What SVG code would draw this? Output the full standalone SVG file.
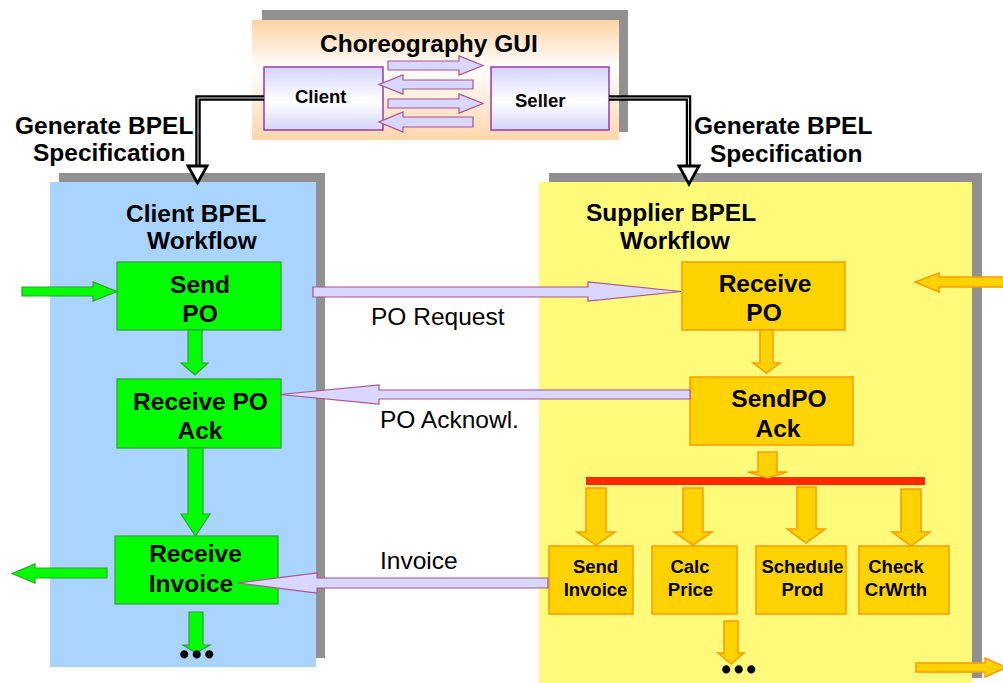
<svg xmlns="http://www.w3.org/2000/svg" width="1003" height="683" viewBox="0 0 1003 683">
<defs>
<linearGradient id="gPeach" x1="0" y1="0" x2="0" y2="1">
<stop offset="0" stop-color="#FFD3A3"/>
<stop offset="0.4" stop-color="#FFFFFF"/>
<stop offset="1" stop-color="#FFD6AC"/>
</linearGradient>
<linearGradient id="gLav" x1="0" y1="0" x2="0" y2="1">
<stop offset="0" stop-color="#D4D4FF"/>
<stop offset="0.55" stop-color="#FFFFFF"/>
<stop offset="1" stop-color="#D4D4FF"/>
</linearGradient>
<style>
.shadow{fill:#919191}
.t{font-family:"Liberation Sans",Arial,sans-serif;font-weight:bold;font-size:24.5px;fill:#000}
.s{font-family:"Liberation Sans",Arial,sans-serif;font-weight:bold;font-size:18.5px;fill:#000}
.r{font-family:"Liberation Sans",Arial,sans-serif;font-weight:normal;font-size:24.5px;fill:#000}
.d{font-family:"Liberation Serif","Times New Roman",serif;font-weight:bold;font-size:50px;fill:#000}
.c{text-anchor:middle}
.green{fill:#00FF00;stroke:#2FA02F;stroke-width:1.2}
.gold{fill:#FFD200;stroke:#FF9A00;stroke-width:1.5}
.lav{fill:#D7D7FF;stroke:#B0508C;stroke-width:1.2}
.box{fill:url(#gLav);stroke:#9A3AAA;stroke-width:1.5}
.blk{fill:none;stroke:#000;stroke-width:5.5;stroke-linejoin:miter}
.wht{fill:none;stroke:#FFF;stroke-width:0.9}
.head{fill:#FFF;stroke:#000;stroke-width:2.8;stroke-linejoin:miter}
</style>
</defs>
<rect width="1003" height="683" fill="#FFFFFF"/>

<g id="choreography-gui">
<rect class="shadow" x="262" y="10" width="366" height="122"/>
<rect x="252" y="20" width="367" height="120" fill="url(#gPeach)"/>
<text class="t" x="320" y="52">Choreography GUI</text>
</g>
<g id="gui-client">
<rect class="box" x="264" y="67" width="119" height="63"/>
<text class="s" x="295" y="103">Client</text>
</g>
<g id="gui-seller">
<rect class="box" x="491" y="67" width="118" height="63"/>
<text class="s" x="515" y="107">Seller</text>
</g>

<g id="client-panel">
<rect class="shadow" x="59" y="173" width="266" height="485"/>
<rect x="50" y="182" width="266" height="485" fill="#A8D4FF"/>
<text class="t" x="126" y="222">Client BPEL</text>
<text class="t" x="147" y="249">Workflow</text>
</g>

<g id="supplier-panel">
<rect class="shadow" x="549" y="173" width="433" height="505"/>
<rect x="539" y="182" width="433" height="501" fill="#FFFB7A"/>
<text class="t" x="586" y="221">Supplier BPEL</text>
<text class="t" x="620" y="249">Workflow</text>
</g>

<g id="gen-left-label">
<text class="t" x="15" y="134">Generate BPEL</text>
<text class="t" x="33" y="161">Specification</text>
</g>
<g id="gen-right-label">
<text class="t" x="694" y="134">Generate BPEL</text>
<text class="t" x="710" y="162">Specification</text>
</g>

<g id="send-po">
<rect class="green" x="117" y="262" width="164" height="68"/>
<text class="t c" x="200" y="293">Send</text>
<text class="t c" x="200" y="322">PO</text>
</g>
<g id="receive-po-ack">
<rect class="green" x="117" y="379" width="164" height="69"/>
<text class="t c" x="200.5" y="410">Receive PO</text>
<text class="t c" x="200" y="439">Ack</text>
</g>
<g id="receive-invoice">
<rect class="green" x="115" y="536" width="163" height="68"/>
<text class="t c" x="195.5" y="562">Receive</text>
<text class="t c" x="191" y="592">Invoice</text>
</g>

<g id="receive-po">
<rect class="gold" x="682" y="262" width="163" height="68"/>
<text class="t c" x="765" y="292">Receive</text>
<text class="t c" x="764" y="321">PO</text>
</g>
<g id="sendpo-ack">
<rect class="gold" x="690" y="377" width="163" height="68"/>
<text class="t c" x="779" y="407">SendPO</text>
<text class="t c" x="778" y="437">Ack</text>
</g>
<g id="fork-bar">
<rect x="586" y="477" width="339" height="8" fill="#FF2A00"/>
</g>
<g id="send-invoice">
<rect class="gold" x="549" y="546" width="84" height="68"/>
<text class="s c" x="595.5" y="573">Send</text>
<text class="s c" x="595.5" y="596">Invoice</text>
</g>
<g id="calc-price">
<rect class="gold" x="652" y="546" width="85" height="68"/>
<text class="s c" x="690" y="573">Calc</text>
<text class="s c" x="690.5" y="596">Price</text>
</g>
<g id="schedule-prod">
<rect class="gold" x="756" y="546" width="90" height="68"/>
<text class="s c" x="802.5" y="573">Schedule</text>
<text class="s c" x="802.5" y="596">Prod</text>
</g>
<g id="check-crwrth">
<rect class="gold" x="859" y="546" width="90" height="68"/>
<text class="s c" x="896" y="573">Check</text>
<text class="s c" x="896" y="596">CrWrth</text>
</g>

<g id="connectors">
<path class="blk" d="M264,98 H198 V166"/>
<path class="wht" d="M264,98 H198 V166"/>
<polygon class="head" points="188,166 207,166 197.5,183"/>
<path class="blk" d="M609,98 H688.5 V166"/>
<path class="wht" d="M609,98 H688.5 V166"/>
<polygon class="head" points="679,166 699,166 689,184"/>

<polygon class="lav" points="388,61 459,61 459,56 483,65.5 459,75 459,70 388,70"/>
<polygon class="lav" points="473,80 403,80 403,75 379,84.5 403,94 403,89 473,89"/>
<polygon class="lav" points="388,99 459,99 459,94 483,103.5 459,113 459,108 388,108"/>
<polygon class="lav" points="473,117 403,117 403,112 379,122 403,132 403,127 473,127"/>

<polygon class="green" points="22,287 93,287 93,282 117,291.5 93,301 93,296 22,296"/>
<polygon class="green" points="188,330 202,330 202,363 208,363 195,375 181,363 188,363"/>
<polygon class="green" points="188,448 203,448 203,514 210,514 195.5,536 181,514 188,514"/>
<polygon class="green" points="189,612 203,612 203,645 210,645 196,653 183,645 189,645"/>
<polygon class="green" points="107,568 35,568 35,564 12,573.5 35,583 35,578 107,578"/>

<polygon class="lav" points="313,287 588,287 588,282 681,291.5 588,301 588,297 313,297"/>
<polygon class="lav" points="690,390 379,390 379,385 280,394.5 379,404 379,399 690,399"/>
<polygon class="lav" points="548,578 317,578 317,573 238,583 317,593 317,588 548,588"/>
<text class="r" x="371" y="325">PO Request</text>
<text class="r" x="380" y="428">PO Acknowl.</text>
<text class="r" x="380" y="569">Invoice</text>

<polygon class="gold" points="1010,277 939,277 939,273 915,282 939,292 939,287 1010,287"/>
<polygon class="gold" points="760,330 773,330 773,363 780,363 766.5,373 753,363 760,363"/>
<polygon class="gold" points="758,452 777,452 777,472 787,472 767.5,478 748,472 758,472"/>
<polygon class="gold" points="586,488 606,488 606,532 615,532 596,545 577,532 586,532"/>
<polygon class="gold" points="683,488 703,488 703,532 712,532 693,545 674,532 683,532"/>
<polygon class="gold" points="797,487 816,487 816,529 825,529 806,543 787,529 797,529"/>
<polygon class="gold" points="901,489 921,489 921,532 930,532 911,546 892,532 901,532"/>
<polygon class="gold" points="724,621 738,621 738,653 744,653 731,664 718,653 724,653"/>
<polygon class="gold" points="916,663 985,663 985,658 1006,667.5 985,677 985,672 916,672"/>

<text class="d" x="178" y="658">...</text>
<text class="d" x="720" y="673">...</text>
</g>
</svg>
